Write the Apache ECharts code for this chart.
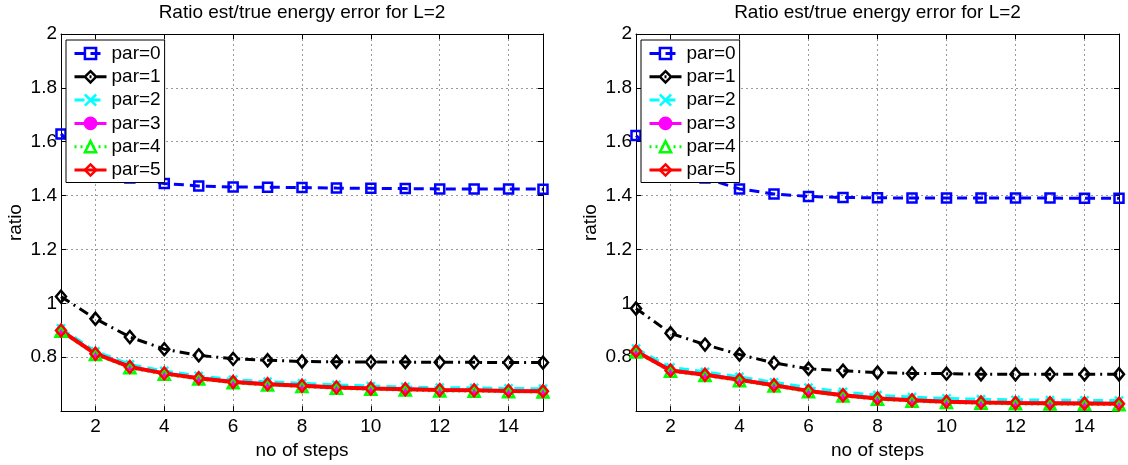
<!DOCTYPE html>
<html>
<head>
<meta charset="utf-8">
<title>Ratio est/true energy error for L=2</title>
<script src="https://cdn.jsdelivr.net/npm/echarts@6/dist/echarts.min.js"></script>
<style>
  html, body { margin: 0; padding: 0; background: #fff; }
  #chart { width: 1128px; height: 465px; }
</style>
</head>
<body>
<div id="chart"></div>
<script>
// x values (number of steps) and the ticks that get a label
var steps = [1, 2, 3, 4, 5, 6, 7, 8, 9, 10, 11, 12, 13, 14, 15];
var xTickValues = [2, 4, 6, 8, 10, 12, 14];
var yMin = 0.6, yMax = 2, yStep = 0.2;

var titleText = 'Ratio est/true energy error for L=2';
var xName = 'no of steps';
var yName = 'ratio';
var seriesNames = ['par=0', 'par=1', 'par=2', 'par=3', 'par=4', 'par=5'];

// left panel
var leftPar0 = [1.629, 1.510, 1.465, 1.445, 1.436, 1.432, 1.431, 1.430, 1.428, 1.427, 1.426, 1.425, 1.425, 1.425, 1.424];
var leftPar1 = [1.025, 0.943, 0.875, 0.830, 0.807, 0.794, 0.789, 0.784, 0.783, 0.782, 0.782, 0.781, 0.781, 0.780, 0.780];
var leftPar2 = [0.907, 0.822, 0.773, 0.749, 0.731, 0.717, 0.709, 0.703, 0.697, 0.693, 0.690, 0.687, 0.686, 0.684, 0.683];
var leftPar3 = [0.899, 0.814, 0.765, 0.741, 0.723, 0.709, 0.701, 0.695, 0.689, 0.685, 0.682, 0.679, 0.677, 0.676, 0.674];
var leftPar4 = [0.896, 0.810, 0.761, 0.737, 0.719, 0.705, 0.697, 0.691, 0.685, 0.681, 0.678, 0.675, 0.674, 0.672, 0.671];
var leftPar5 = [0.899, 0.813, 0.764, 0.740, 0.722, 0.708, 0.700, 0.694, 0.688, 0.684, 0.681, 0.678, 0.677, 0.675, 0.674];

// right panel
var rightPar0 = [1.623, 1.520, 1.465, 1.425, 1.406, 1.397, 1.393, 1.392, 1.391, 1.391, 1.391, 1.391, 1.391, 1.390, 1.390];
var rightPar1 = [0.981, 0.889, 0.847, 0.810, 0.779, 0.757, 0.750, 0.743, 0.740, 0.739, 0.737, 0.737, 0.737, 0.737, 0.737];
var rightPar2 = [0.832, 0.762, 0.746, 0.727, 0.707, 0.687, 0.671, 0.659, 0.652, 0.647, 0.644, 0.642, 0.641, 0.640, 0.639];
var rightPar3 = [0.822, 0.752, 0.736, 0.717, 0.697, 0.676, 0.660, 0.648, 0.641, 0.636, 0.633, 0.631, 0.630, 0.629, 0.628];
var rightPar4 = [0.819, 0.748, 0.732, 0.713, 0.693, 0.672, 0.656, 0.644, 0.637, 0.632, 0.629, 0.627, 0.626, 0.625, 0.624];
var rightPar5 = [0.822, 0.751, 0.735, 0.716, 0.696, 0.675, 0.659, 0.647, 0.640, 0.635, 0.632, 0.630, 0.629, 0.628, 0.627];

;(function () {

    'use strict';

    var FONT = '"Liberation Sans", Arial, Helvetica, sans-serif';

    // matlab-ish line specs, one per par
    var specs = [
        { color: '#0000ff', dash: [10, 6],       width: 3, symbol: 'rect',     size: 9,        fill: 'transparent', border: 2.5 },
        { color: '#000000', dash: [10, 5, 2, 5], width: 3, symbol: 'diamond',  size: [10, 12], fill: 'transparent', border: 2.5 },
        { color: '#00ffff', dash: [10, 6],       width: 3, symbol: 'path://M0,0L10,10M10,0L0,10', size: 8, fill: 'transparent', border: 2.5 },
        { color: '#ff00ff', dash: 'solid',       width: 3, symbol: 'circle',   size: 8,        fill: '#ff00ff',     border: 0 },
        { color: '#00ff00', dash: [2, 4],        width: 3, symbol: 'triangle', size: 11,       fill: 'transparent', border: 2.5 },
        { color: '#ff0000', dash: 'solid',       width: 4, symbol: 'diamond',  size: [10, 12], fill: 'transparent', border: 2.5 }
    ];

    var panels = [
        { grid: { left: 61,  top: 34, width: 482, height: 381 }, legendLeft: 66,
          values: [leftPar0, leftPar1, leftPar2, leftPar3, leftPar4, leftPar5] },
        { grid: { left: 636, top: 34, width: 483, height: 381 }, legendLeft: 641,
          values: [rightPar0, rightPar1, rightPar2, rightPar3, rightPar4, rightPar5] }
    ];

    var isTick = function (index, value) {
        return xTickValues.indexOf(Number(value)) !== -1;
    };

    var blackLine = { show: true, lineStyle: { color: '#000', width: 1 } };
    var innerTick = { show: true, inside: true, length: 5, lineStyle: { color: '#000', width: 1 } };

    var option = {
        animation: false,
        backgroundColor: '#fff',
        textStyle: { fontFamily: FONT },
        title: [],
        legend: [],
        grid: [],
        xAxis: [],
        yAxis: [],
        series: []
    };

    panels.forEach(function (p, i) {
        var g = p.grid;

        option.grid.push(g);

        option.title.push({
            text: titleText,
            left: g.left + g.width / 2,
            top: 3,
            padding: 0,
            textAlign: 'center',
            textStyle: { fontSize: 19, fontWeight: 'normal', color: '#000', fontFamily: FONT }
        });

        // bottom x axis with labels and grid
        option.xAxis.push({
            type: 'category',
            gridIndex: i,
            position: 'bottom',
            data: steps,
            boundaryGap: false,
            name: xName,
            nameLocation: 'middle',
            nameGap: 23,
            nameTextStyle: { fontSize: 19, color: '#000', fontFamily: FONT },
            axisLine: blackLine,
            axisTick: { show: true, inside: true, length: 5, interval: isTick, lineStyle: { color: '#000', width: 1 } },
            axisLabel: { show: true, interval: isTick, margin: 6, fontSize: 19, color: '#000', fontFamily: FONT },
            splitLine: { show: true, interval: isTick, lineStyle: { color: '#9a9a9a', width: 1, type: [2, 3] } }
        });
        // top x axis, ticks only
        option.xAxis.push({
            type: 'category',
            gridIndex: i,
            position: 'top',
            data: steps,
            boundaryGap: false,
            axisLine: blackLine,
            axisTick: { show: true, inside: true, length: 5, interval: isTick, lineStyle: { color: '#000', width: 1 } },
            axisLabel: { show: false },
            splitLine: { show: false }
        });

        option.yAxis.push({
            type: 'value',
            gridIndex: i,
            position: 'left',
            min: yMin,
            max: yMax,
            interval: yStep,
            name: yName,
            nameLocation: 'middle',
            nameRotate: 90,
            nameGap: 36,
            nameTextStyle: { fontSize: 19, color: '#000', fontFamily: FONT },
            axisLine: blackLine,
            axisTick: innerTick,
            axisLabel: {
                margin: 4, fontSize: 19, color: '#000', fontFamily: FONT,
                formatter: function (v) {
                    return v < yMin + yStep / 2 ? '' : String(+v.toFixed(1));
                }
            },
            splitLine: { show: true, lineStyle: { color: '#9a9a9a', width: 1, type: [2, 3] } }
        });
        option.yAxis.push({
            type: 'value',
            gridIndex: i,
            position: 'right',
            min: yMin,
            max: yMax,
            interval: yStep,
            axisLine: blackLine,
            axisTick: innerTick,
            axisLabel: { show: false },
            splitLine: { show: false }
        });

        option.legend.push({
            orient: 'vertical',
            left: p.legendLeft,
            top: 40,
            backgroundColor: '#fff',
            borderColor: '#000',
            borderWidth: 1,
            padding: [4, 4, 3, 7],
            itemWidth: 32,
            itemHeight: 14,
            itemGap: 4.3,
            selectedMode: false,
            lineStyle: { width: 3 },
            itemStyle: { borderWidth: 2.5 },
            textStyle: { fontSize: 19, lineHeight: 19, color: '#000', fontFamily: FONT },
            data: seriesNames
        });

        p.values.forEach(function (vals, k) {
            var s = specs[k];
            option.series.push({
                type: 'line',
                name: seriesNames[k],
                xAxisIndex: 2 * i,
                yAxisIndex: 2 * i,
                data: vals,
                symbol: s.symbol,
                symbolSize: s.size,
                showAllSymbol: true,
                lineStyle: { color: s.color, width: s.width, type: s.dash },
                itemStyle: { color: s.fill, borderColor: s.color, borderWidth: s.border },
                emphasis: { disabled: true }
            });
        });
    });

    var chart = echarts.init(document.getElementById('chart'), null, { renderer: 'canvas' });
    chart.setOption(option);

}());
</script>
</body>
</html>
